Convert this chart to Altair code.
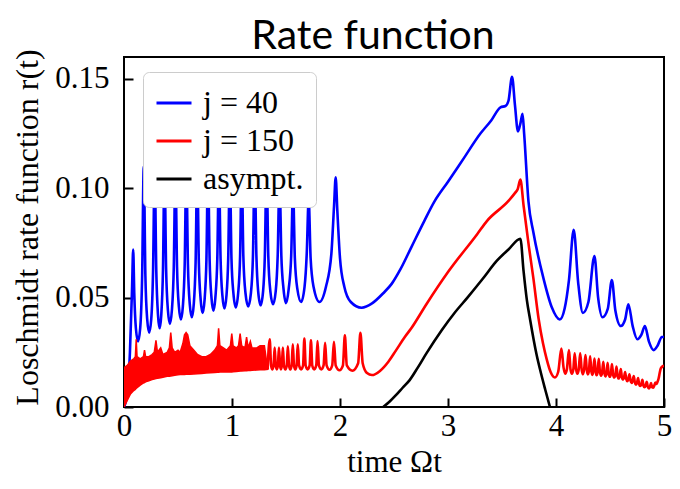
import altair as alt
import pandas as pd

# ---- values ----
series_names = ["j = 40", "j = 150", "asympt."]
series_colors = ["#0000ff", "#ff0000", "#000000"]
x_ticks = [0, 1, 2, 3, 4, 5]
y_ticks = [0.00, 0.05, 0.10, 0.15]

# j = 40 : (time, rate)
blue_points = [
    (0.000, 0.000), (0.030, 0.006), (0.055, 0.025), (0.075, 0.055), (0.085, 0.072),
    (0.095, 0.052), (0.110, 0.036), (0.130, 0.030), (0.150, 0.036), (0.168, 0.060),
    (0.183, 0.110), (0.198, 0.060), (0.215, 0.040), (0.233, 0.034), (0.252, 0.040),
    (0.269, 0.062), (0.284, 0.110), (0.299, 0.062), (0.315, 0.042), (0.330, 0.036),
    (0.345, 0.042), (0.361, 0.063), (0.375, 0.110), (0.390, 0.063), (0.407, 0.044),
    (0.425, 0.038), (0.443, 0.044), (0.461, 0.064), (0.476, 0.110), (0.491, 0.064),
    (0.508, 0.046), (0.527, 0.040), (0.545, 0.046), (0.562, 0.065), (0.577, 0.110),
    (0.592, 0.065), (0.609, 0.047), (0.628, 0.041), (0.646, 0.047), (0.663, 0.066),
    (0.678, 0.110), (0.693, 0.066), (0.710, 0.049), (0.728, 0.043), (0.746, 0.049),
    (0.763, 0.067), (0.778, 0.110), (0.793, 0.067), (0.810, 0.050), (0.828, 0.044),
    (0.846, 0.050), (0.864, 0.068), (0.879, 0.110), (0.894, 0.068), (0.911, 0.051),
    (0.930, 0.045), (0.949, 0.051), (0.965, 0.068), (0.980, 0.110), (0.995, 0.068),
    (1.013, 0.052), (1.035, 0.0455), (1.057, 0.052), (1.075, 0.069), (1.090, 0.110),
    (1.105, 0.069), (1.125, 0.052), (1.150, 0.046), (1.175, 0.052), (1.194, 0.069),
    (1.210, 0.110), (1.226, 0.069), (1.242, 0.053), (1.265, 0.0465), (1.288, 0.053),
    (1.304, 0.069), (1.320, 0.110), (1.336, 0.069), (1.355, 0.053), (1.380, 0.047),
    (1.405, 0.053), (1.423, 0.069), (1.440, 0.105), (1.457, 0.069), (1.477, 0.054),
    (1.500, 0.0475), (1.525, 0.054), (1.548, 0.069), (1.565, 0.100), (1.582, 0.068),
    (1.605, 0.054), (1.640, 0.048), (1.672, 0.055), (1.692, 0.070), (1.710, 0.095),
    (1.728, 0.068), (1.755, 0.055), (1.810, 0.048), (1.870, 0.055), (1.920, 0.070),
    (1.945, 0.092), (1.960, 0.105), (1.975, 0.090), (2.000, 0.068), (2.040, 0.055),
    (2.100, 0.048), (2.200, 0.0454), (2.300, 0.0475), (2.400, 0.052), (2.480, 0.0564),
    (2.560, 0.063), (2.660, 0.073), (2.780, 0.085), (2.875, 0.094), (3.000, 0.103),
    (3.150, 0.114), (3.300, 0.125), (3.400, 0.131), (3.486, 0.137), (3.532, 0.1376),
    (3.560, 0.140), (3.593, 0.151), (3.620, 0.138), (3.648, 0.126), (3.672, 0.130),
    (3.690, 0.134), (3.705, 0.125), (3.745, 0.094), (3.790, 0.080), (3.883, 0.059),
    (3.960, 0.0457), (4.035, 0.040), (4.080, 0.045), (4.120, 0.058), (4.164, 0.081),
    (4.205, 0.057), (4.249, 0.043), (4.300, 0.048), (4.356, 0.069), (4.390, 0.050),
    (4.430, 0.041), (4.480, 0.045), (4.517, 0.058), (4.550, 0.044), (4.600, 0.037),
    (4.640, 0.040), (4.670, 0.047), (4.710, 0.037), (4.753, 0.031), (4.790, 0.033),
    (4.823, 0.037), (4.860, 0.030), (4.905, 0.026), (4.940, 0.028), (4.980, 0.032),
    (5.000, 0.032),
]

# j = 150 : dense oscillation band at early times (time, lower, upper)
red_band = [
    (0.000, 0.000, 0.018), (0.030, 0.003, 0.019), (0.060, 0.006, 0.021),
    (0.090, 0.0075, 0.022), (0.105, 0.008, 0.023), (0.113, 0.0085, 0.031),
    (0.121, 0.0088, 0.023), (0.150, 0.010, 0.022), (0.180, 0.011, 0.023),
    (0.190, 0.0112, 0.026), (0.200, 0.0115, 0.023), (0.230, 0.012, 0.023),
    (0.260, 0.0125, 0.024), (0.280, 0.0128, 0.025), (0.296, 0.013, 0.0305),
    (0.310, 0.0131, 0.025), (0.340, 0.0134, 0.027), (0.360, 0.0136, 0.024),
    (0.400, 0.014, 0.025), (0.420, 0.0141, 0.027), (0.433, 0.0142, 0.034),
    (0.446, 0.0143, 0.027), (0.470, 0.0145, 0.025), (0.500, 0.0147, 0.026),
    (0.520, 0.0148, 0.025), (0.545, 0.0149, 0.029), (0.560, 0.0149, 0.033),
    (0.575, 0.015, 0.034), (0.590, 0.015, 0.033), (0.610, 0.015, 0.028),
    (0.647, 0.0151, 0.026), (0.680, 0.0152, 0.024), (0.720, 0.0153, 0.023),
    (0.760, 0.0155, 0.023), (0.800, 0.0157, 0.024), (0.840, 0.0158, 0.026),
    (0.865, 0.0159, 0.028), (0.876, 0.0159, 0.036), (0.888, 0.016, 0.028),
    (0.920, 0.016, 0.027), (0.950, 0.016, 0.026), (0.985, 0.016, 0.028),
    (0.998, 0.016, 0.0336), (1.010, 0.0161, 0.028), (1.040, 0.0162, 0.027),
    (1.060, 0.0163, 0.028), (1.075, 0.0164, 0.0336), (1.090, 0.0165, 0.028),
    (1.120, 0.0166, 0.027), (1.135, 0.0166, 0.032), (1.150, 0.0167, 0.027),
    (1.170, 0.0167, 0.030), (1.185, 0.0168, 0.027), (1.230, 0.0169, 0.027),
    (1.260, 0.017, 0.028), (1.300, 0.017, 0.028), (1.330, 0.0172, 0.0175),
]

# j = 150 : resolved part (time, rate)
red_points = [
    (1.330, 0.0172), (1.349, 0.031), (1.362, 0.019), (1.372, 0.0172), (1.385, 0.019),
    (1.395, 0.0272), (1.405, 0.019), (1.415, 0.0172), (1.425, 0.019), (1.435, 0.0272),
    (1.445, 0.019), (1.453, 0.0172), (1.462, 0.019), (1.471, 0.0272), (1.481, 0.019),
    (1.494, 0.0172), (1.507, 0.019), (1.517, 0.0278), (1.528, 0.019), (1.540, 0.0172),
    (1.552, 0.019), (1.563, 0.0287), (1.574, 0.019), (1.586, 0.0172), (1.598, 0.019),
    (1.609, 0.0287), (1.621, 0.019), (1.640, 0.0172), (1.658, 0.019), (1.670, 0.0313),
    (1.682, 0.019), (1.700, 0.0172), (1.719, 0.019), (1.731, 0.0305), (1.743, 0.019),
    (1.761, 0.0172), (1.780, 0.019), (1.792, 0.0302), (1.805, 0.019), (1.827, 0.0172),
    (1.848, 0.019), (1.862, 0.0293), (1.876, 0.019), (1.903, 0.0170), (1.928, 0.019),
    (1.944, 0.0298), (1.960, 0.019), (1.995, 0.0168), (2.027, 0.019), (2.045, 0.0328),
    (2.063, 0.019), (2.115, 0.0166), (2.168, 0.020), (2.189, 0.0339), (2.210, 0.020),
    (2.250, 0.0155), (2.296, 0.0146), (2.370, 0.0165), (2.448, 0.0207), (2.520, 0.026),
    (2.600, 0.032), (2.660, 0.036), (2.800, 0.047), (3.000, 0.0617), (3.270, 0.079),
    (3.360, 0.085), (3.562, 0.0943), (3.623, 0.098), (3.645, 0.0995), (3.670, 0.104),
    (3.700, 0.092), (3.750, 0.073), (3.790, 0.059), (3.840, 0.040), (3.880, 0.029),
    (3.913, 0.022), (3.950, 0.016), (3.990, 0.0135), (4.020, 0.016), (4.050, 0.0267),
    (4.070, 0.018), (4.085, 0.0152), (4.100, 0.017), (4.120, 0.026), (4.135, 0.017),
    (4.147, 0.0152), (4.160, 0.017), (4.173, 0.0245), (4.187, 0.017), (4.198, 0.0152),
    (4.210, 0.017), (4.224, 0.0245), (4.238, 0.017), (4.248, 0.015), (4.260, 0.017),
    (4.273, 0.0237), (4.285, 0.017), (4.295, 0.0149), (4.305, 0.0165), (4.316, 0.0232),
    (4.327, 0.0165), (4.336, 0.0147), (4.345, 0.0163), (4.356, 0.0222), (4.367, 0.0162),
    (4.376, 0.0145), (4.385, 0.016), (4.396, 0.022), (4.407, 0.016), (4.417, 0.0143),
    (4.427, 0.0158), (4.438, 0.0207), (4.448, 0.0156), (4.458, 0.014), (4.468, 0.0154),
    (4.478, 0.0202), (4.488, 0.0152), (4.498, 0.0138), (4.508, 0.015), (4.518, 0.0196),
    (4.529, 0.0148), (4.540, 0.0135), (4.550, 0.0146), (4.560, 0.0185), (4.570, 0.0143),
    (4.580, 0.013), (4.590, 0.0142), (4.600, 0.0173), (4.610, 0.0135), (4.620, 0.0125),
    (4.630, 0.0135), (4.640, 0.016), (4.650, 0.0128), (4.660, 0.0118), (4.670, 0.0128),
    (4.680, 0.015), (4.690, 0.012), (4.700, 0.011), (4.710, 0.012), (4.720, 0.0142),
    (4.730, 0.0112), (4.740, 0.0102), (4.750, 0.011), (4.760, 0.0132), (4.770, 0.0104),
    (4.780, 0.0096), (4.790, 0.0104), (4.800, 0.0124), (4.810, 0.0097), (4.820, 0.009),
    (4.830, 0.0098), (4.840, 0.0115), (4.850, 0.0092), (4.860, 0.0085), (4.870, 0.0093),
    (4.880, 0.011), (4.890, 0.009), (4.900, 0.0088), (4.910, 0.0098), (4.920, 0.0112),
    (4.930, 0.0105), (4.940, 0.0115), (4.950, 0.013), (4.960, 0.0155), (4.970, 0.0176),
    (4.985, 0.0185), (5.000, 0.019),
]

# asymptotic curve (time, rate)
black_points = [
    (2.400, 0.000), (2.460, 0.0025), (2.520, 0.0055), (2.580, 0.0088), (2.645, 0.0123),
    (2.720, 0.018), (2.800, 0.0245), (2.940, 0.035), (3.060, 0.043), (3.180, 0.050),
    (3.320, 0.0585), (3.455, 0.067), (3.560, 0.072), (3.670, 0.0769), (3.700, 0.062),
    (3.730, 0.049), (3.760, 0.040), (3.820, 0.024), (3.853, 0.017), (3.900, 0.008),
    (3.944, 0.000),
]

# ---- tables ----
rows = []
for name, pts in zip(series_names, [blue_points, red_points, black_points]):
    for i, (t, r) in enumerate(pts):
        rows.append({"series": name, "t": t, "r": r, "idx": i})
lines_df = pd.DataFrame(rows)
band_df = pd.DataFrame(red_band, columns=["t", "lo", "hi"])

serif = "Liberation Serif"
x_scale = alt.Scale(domain=[0, 5], nice=False, zero=False)
y_scale = alt.Scale(domain=[0, 0.16], nice=False, zero=False)

x_axis = alt.Axis(
    values=x_ticks, format="d", offset=-9, tickSize=9, tickWidth=2, tickColor="black",
    domain=False, grid=False, labelFlush=False, labelFont=serif, labelFontSize=31,
    labelColor="black", labelPadding=4, title="time Ωt", titleFont=serif,
    titleFontSize=31, titleFontWeight="normal", titleColor="black", titlePadding=6,
)
y_axis = alt.Axis(
    values=y_ticks, format=".2f", offset=-9, tickSize=9, tickWidth=2, tickColor="black",
    domain=False, grid=False, labelFont=serif, labelFontSize=31, labelColor="black",
    labelPadding=15, title="Loschmidt rate function r(t)", titleFont=serif,
    titleFontSize=32, titleFontWeight="normal", titleColor="black", titlePadding=10,
    titleY=170,
)

color_enc = alt.Color(
    "series:N",
    scale=alt.Scale(domain=series_names, range=series_colors),
    legend=alt.Legend(
        title=None, orient="none", legendX=19, legendY=15, fillColor="white",
        strokeColor="#cccccc", cornerRadius=6, padding=12, symbolType="stroke",
        symbolSize=1225, symbolStrokeWidth=3, labelFont=serif, labelFontSize=32,
        labelColor="black", labelOffset=10, rowPadding=3, labelLimit=300,
    ),
)


def line_layer(name):
    return (
        alt.Chart(lines_df)
        .transform_filter(alt.datum.series == name)
        .mark_line(strokeWidth=2.6, clip=True, interpolate="monotone")
        .encode(
            x=alt.X("t:Q", scale=x_scale, axis=x_axis),
            y=alt.Y("r:Q", scale=y_scale, axis=y_axis),
            color=color_enc,
            order=alt.Order("idx:Q"),
        )
    )


band = (
    alt.Chart(band_df)
    .mark_area(color="#ff0000", stroke="#ff0000", strokeWidth=1.5, opacity=1, clip=True)
    .encode(
        x=alt.X("t:Q", scale=x_scale, axis=x_axis),
        y=alt.Y("lo:Q", scale=y_scale, axis=y_axis),
        y2="hi:Q",
    )
)

chart = (
    alt.layer(line_layer("j = 40"), band, line_layer("j = 150"), line_layer("asympt."))
    .properties(
        width=540,
        height=350,
        view=alt.ViewBackground(stroke="black", strokeWidth=2, strokeOpacity=1),
        title=alt.TitleParams(
            "Rate function", font="Lato", fontSize=41, fontWeight="normal",
            color="black", anchor="middle", frame="group", dx=-21, dy=15, offset=6,
        ),
        autosize=alt.AutoSizeParams(type="none"),
        padding={"left": 116, "top": 49, "right": 8, "bottom": 72},
    )
    .configure_view(stroke="black", strokeWidth=2)
    .configure(background="white")
)

chart.save("out.html", embed_options={"renderer": "svg", "actions": False})
